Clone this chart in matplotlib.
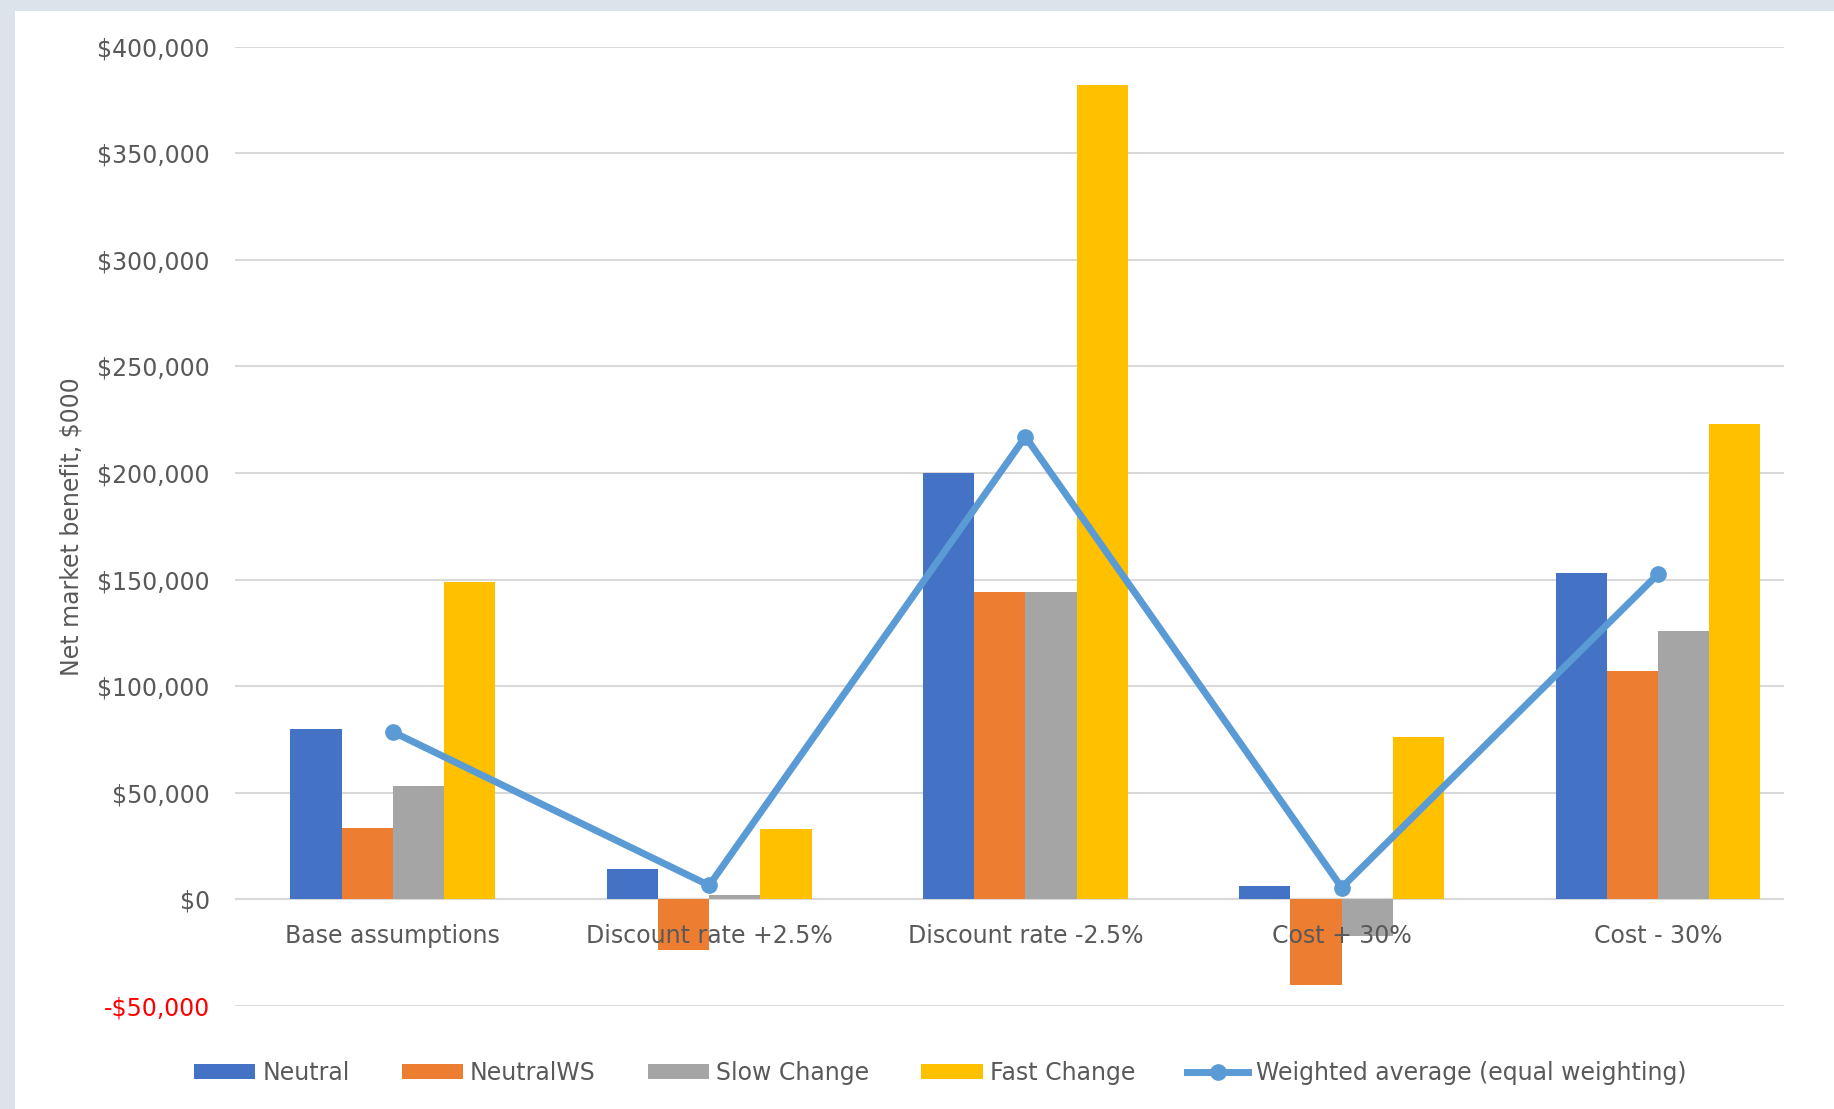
import numpy as np
import matplotlib.pyplot as plt
from matplotlib.ticker import FuncFormatter

categories = ['Base assumptions', 'Discount rate +2.5%', 'Discount rate -2.5%', 'Cost + 30%', 'Cost - 30%']
neutral = [80000, 14000, 200000, 6000, 153000]
neutral_ws = [33500, -24000, 144000, -40000, 107000]
slow_change = [53000, 2000, 144000, -17000, 126000]
fast_change = [149000, 33000, 382000, 76000, 223000]
weighted_avg = [78500, 6500, 217000, 5500, 152500]

series = [('Neutral', neutral, '#4472C4'),
          ('NeutralWS', neutral_ws, '#ED7D31'),
          ('Slow Change', slow_change, '#A5A5A5'),
          ('Fast Change', fast_change, '#FFC000')]

fig = plt.figure(figsize=(18.34, 11.09), dpi=100)
fig.patch.set_facecolor('#DDE3EA')
bg = fig.add_axes([0.008, 0.0, 0.992, 0.99])
bg.set_facecolor('white'); bg.set_xticks([]); bg.set_yticks([])
for s in bg.spines.values():
    s.set_visible(False)

ax = fig.add_axes([0.128, 0.093, 0.845, 0.865])
ax.set_facecolor('none')
x = np.arange(len(categories))
w = 0.162
for i, (name, vals, col) in enumerate(series):
    ax.bar(x + (i - 1.5) * w, vals, w, color=col, label=name, zorder=2)
ax.plot(x, weighted_avg, color='#5B9BD5', lw=5, marker='o', ms=11,
        label='Weighted average (equal weighting)', zorder=3)

ax.set_ylim(-50000, 400000)
ax.set_xlim(-0.5, 4.4)
ax.set_yticks(np.arange(-50000, 400001, 50000))
ax.yaxis.set_major_formatter(FuncFormatter(
    lambda v, p: f'-${abs(v):,.0f}' if v < 0 else f'${v:,.0f}'))
ax.grid(axis='y', color='#D9D9D9', lw=1.5, zorder=0)
for s in ax.spines.values():
    s.set_visible(False)
ax.axhline(0, color='#D9D9D9', lw=1.5, zorder=1)
ax.tick_params(length=0, labelsize=17, labelcolor='#595959', pad=18)
ax.set_xticks([])
ax.get_yticklabels()[0].set_color('red')
ax.set_ylabel('Net market benefit, $000', fontsize=17, color='#595959', labelpad=10)

# x labels sit just under the zero line
for xi, c in zip(x, categories):
    ax.text(xi, -11500, c, ha='center', va='top', fontsize=17, color='#595959', zorder=4)

h, l = ax.get_legend_handles_labels()
h = h[1:] + h[:1]; l = l[1:] + l[:1]
ax.legend(h, l, loc='upper center', bbox_to_anchor=(0.455, -0.035), ncol=5, frameon=False,
          fontsize=17, labelcolor='#595959', handlelength=2.6, columnspacing=2.2,
          handletextpad=0.3, handleheight=0.6)
fig.savefig('out.png', dpi=100)
